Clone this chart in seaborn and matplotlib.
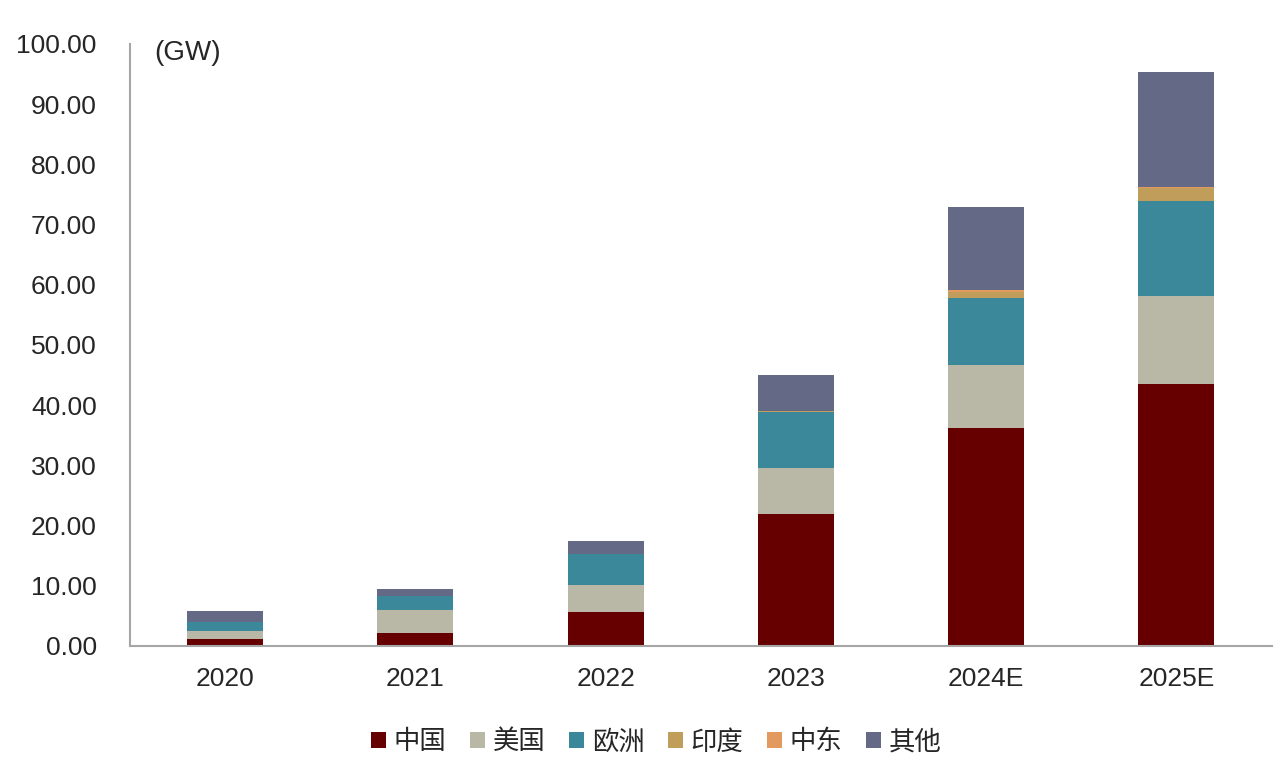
import numpy as np
import matplotlib
matplotlib.use('Agg')
import matplotlib.pyplot as plt
import seaborn as sns
from matplotlib.patches import Patch

# Data (GW)
years = ['2020', '2021', '2022', '2023', '2024E', '2025E']
regions = ['中国', '美国', '欧洲', '印度', '中东', '其他']
china = [1.2, 2.2, 5.6, 21.9, 36.2, 43.6]
usa = [1.3, 3.8, 4.6, 7.7, 10.5, 14.6]
europe = [1.5, 2.3, 5.0, 9.2, 11.1, 15.7]
india = [0.0, 0.0, 0.0, 0.2, 1.0, 2.2]
middle_east = [0.0, 0.0, 0.0, 0.1, 0.3, 0.2]
others = [1.8, 1.1, 2.2, 5.9, 13.8, 19.0]
colors = ['#660000', '#B9B8A6', '#3A889A', '#C09D5A', '#E39A5F', '#646A86']

sns.set_style('white')
plt.rcParams['font.family'] = ['Liberation Sans', 'Noto Sans CJK SC', 'DejaVu Sans']

series = [china, usa, europe, india, middle_east, others]
cum = np.cumsum(np.array(series), axis=0)

fig = plt.figure(figsize=(12.87, 7.65), dpi=100)
ax = fig.add_axes([0.101, 0.1556, 0.887, 0.7869])

# draw cumulative totals from the top down so each layer shows as a stack segment
for i in reversed(range(len(regions))):
    sns.barplot(x=years, y=cum[i], color=colors[i], width=0.4, ax=ax,
                saturation=1, linewidth=0)

ax.set_ylim(0, 100)
ax.set_xlim(-0.5, len(years) - 0.5)
ax.set_yticks(np.arange(0, 101, 10))
ax.set_yticklabels([f'{v:.2f}' for v in np.arange(0, 101, 10)])
ax.set_xlabel('')
ax.set_ylabel('')

for s in ['top', 'right']:
    ax.spines[s].set_visible(False)
for s in ['left', 'bottom']:
    ax.spines[s].set_color('#A6A6A6')
    ax.spines[s].set_linewidth(1.5)

ax.tick_params(axis='both', labelsize=19, colors='#262626', length=0)
ax.tick_params(axis='y', pad=24)
ax.tick_params(axis='x', pad=15)
ax.set_xticks(np.arange(-0.5, len(years), 1), minor=True)
ax.tick_params(axis='x', which='minor', length=8, width=1.5, color='#A6A6A6', direction='out')

ax.text(0.021, 0.985, '(GW)', transform=ax.transAxes, fontsize=20,
        color='#262626', va='center', ha='left')

handles = [Patch(facecolor=c, edgecolor='none') for c in colors]
fig.legend(handles, regions, loc='center', bbox_to_anchor=(0.51, 0.03),
           ncol=6, frameon=False, fontsize=19, handlelength=0.55, handleheight=0.55,
           handletextpad=0.3, columnspacing=0.9)

plt.savefig('out.png', dpi=100)
